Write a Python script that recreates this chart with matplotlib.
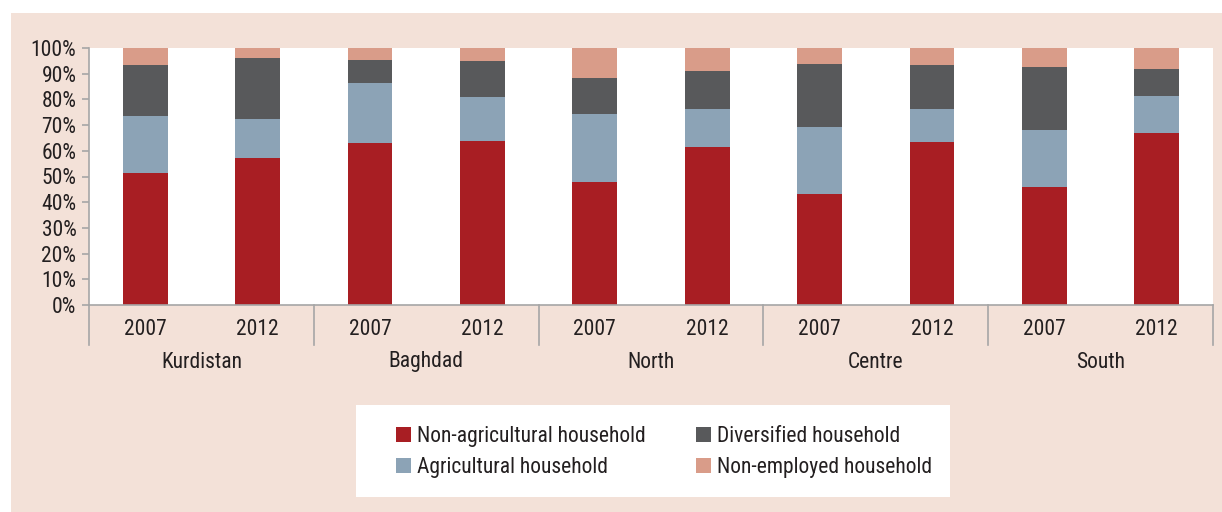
import numpy as np
import matplotlib
matplotlib.use('Agg')
import matplotlib.pyplot as plt
from matplotlib.patches import Rectangle
from matplotlib.transforms import blended_transform_factory

# Household employment type by region, share of households (%)
regions = ['Kurdistan', 'Baghdad', 'North', 'Centre', 'South']
years = ['2007', '2012']
non_agri = [51.5, 57.1, 63.0, 63.9, 47.7, 61.4, 43.2, 63.6, 46.0, 67.0]
agri = [22.2, 15.2, 23.4, 17.2, 26.5, 14.9, 26.2, 12.7, 22.1, 14.2]
divers = [19.6, 23.8, 8.9, 14.0, 14.1, 14.6, 24.5, 17.2, 24.6, 10.6]
non_emp = [6.7, 3.9, 4.7, 4.9, 11.7, 9.1, 6.1, 6.5, 7.3, 8.2]
labels = ['Non-agricultural household', 'Agricultural household',
          'Diversified household', 'Non-employed household']
colors = ['#a81e23', '#8ca3b6', '#58595b', '#d99c89']

plt.rcParams['font.family'] = ['Roboto Condensed', 'DejaVu Sans']
plt.rcParams['font.stretch'] = 'condensed'
txt = '#231f20'
grey = '#a6a6a6'
bg = '#f3e1d8'
fs = 15.5

W, H = 1222, 512
fig = plt.figure(figsize=(W / 100, H / 100), dpi=100)
fig.patch.set_facecolor('white')
fig.add_artist(Rectangle((11 / W, 0), 1 - 11 / W, 1 - 13 / H, transform=fig.transFigure,
                         facecolor=bg, edgecolor='none', zorder=-1))

ax = fig.add_axes([89 / W, 1 - 305 / H, (1213 - 89) / W, (305 - 48) / H])
ax.set_facecolor('white')

x = np.arange(len(non_agri))
bottom = np.zeros(len(x))
for vals, lab, col in zip([non_agri, agri, divers, non_emp], labels, colors):
    ax.bar(x, vals, 0.4, bottom=bottom, color=col, label=lab, zorder=2)
    bottom += np.array(vals)

ax.set_xlim(-0.5, len(x) - 0.5)
ax.set_ylim(0, 100)
ax.set_yticks(np.arange(0, 101, 10))
ax.set_yticklabels([f'{v}%' for v in range(0, 101, 10)], fontsize=fs, color=txt)
ax.tick_params(axis='y', length=5, width=1.2, color=grey, pad=4)

ax.set_xticks(x)
ax.set_xticklabels(years * len(regions), fontsize=fs, color=txt)
ax.tick_params(axis='x', length=0, pad=10)

for s in ['top', 'right']:
    ax.spines[s].set_visible(False)
for s in ['left', 'bottom']:
    ax.spines[s].set_color(grey)
    ax.spines[s].set_linewidth(1.2)

# group separators under the category axis
trans = blended_transform_factory(ax.transData, ax.transAxes)
drop = 40 / 257
for b in np.arange(-0.5, len(x), 2):
    ax.plot([b, b], [0, -drop], transform=trans, color=grey, lw=1.2, clip_on=False)

for i, r in enumerate(regions):
    ax.text(2 * i + 0.5, -57 / 257, r, transform=trans, ha='center', va='center',
            fontsize=fs, color=txt)

# legend panel
fig.add_artist(Rectangle((356 / W, 1 - 497 / H), (950 - 356) / W, (497 - 405) / H,
                         transform=fig.transFigure, facecolor='white', edgecolor='none', zorder=1))
h, l = ax.get_legend_handles_labels()
for cols, x0 in [((0, 1), 396), ((2, 3), 696)]:
    fig.legend([h[c] for c in cols], [l[c] for c in cols], loc='center left',
               bbox_to_anchor=(x0 / W, 1 - 452 / H), frameon=False, fontsize=fs,
               handlelength=0.68, handleheight=0.68, handletextpad=0.3,
               borderpad=0, borderaxespad=0, labelspacing=0.45, labelcolor=txt)

fig.savefig('out.png', dpi=100, facecolor='white')
